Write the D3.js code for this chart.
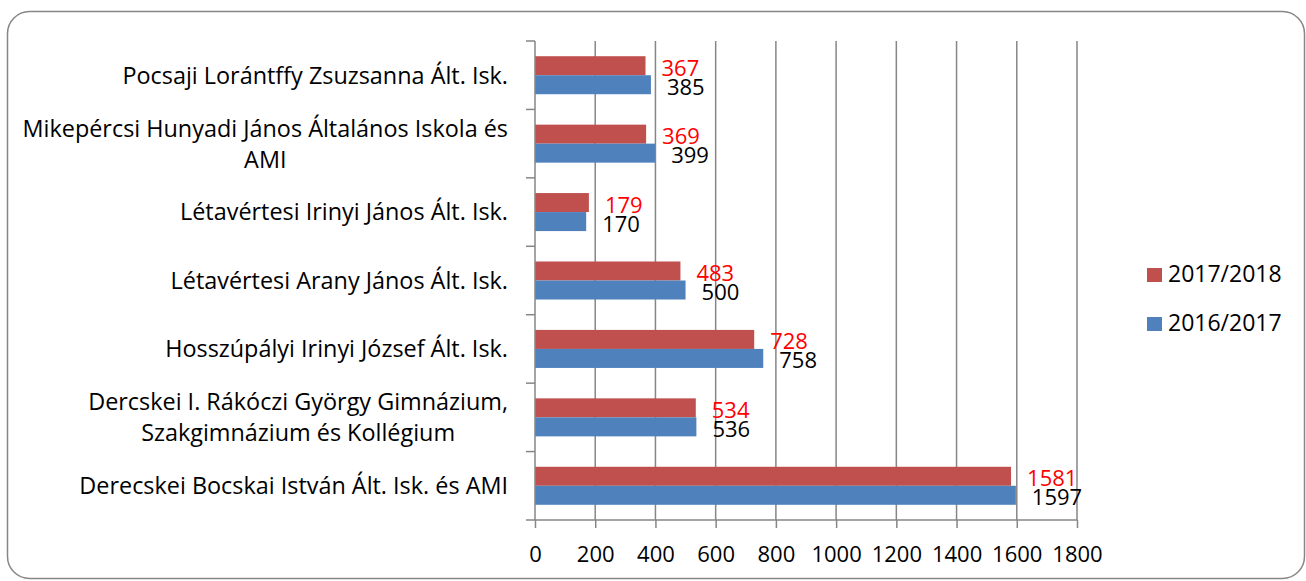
<!DOCTYPE html>
<html>
<head>
<meta charset="utf-8">
<script src="https://cdn.jsdelivr.net/npm/d3@7"></script>
<style>
  body { margin: 0; background: #fff; }
  text { font-family: "Open Sans", Lato, sans-serif; }
</style>
</head>
<body>
<svg id="chart" width="1306" height="581"></svg>
<script>
// categories top to bottom, as in the picture
const categories = [
    ["Pocsaji Lorántffy Zsuzsanna Ált. Isk."],
    ["Mikepércsi Hunyadi János Általános Iskola és", "AMI"],
    ["Létavértesi Irinyi János Ált. Isk."],
    ["Létavértesi Arany János Ált. Isk."],
    ["Hosszúpályi Irinyi József Ált. Isk."],
    ["Dercskei I. Rákóczi György Gimnázium,", "Szakgimnázium és Kollégium"],
    ["Derecskei Bocskai István Ált. Isk. és AMI"]
];
const values1718 = [367, 369, 179, 483, 728, 534, 1581];
const values1617 = [385, 399, 170, 500, 758, 536, 1597];
const seriesNames = ["2017/2018", "2016/2017"];
const xTicks = [0, 200, 400, 600, 800, 1000, 1200, 1400, 1600, 1800];

const colors = ["#C0504D", "#4F81BD"];
const labelColors = ["#FF0000", "#000000"];

let svg = d3.select("#chart");

//outer frame
svg.append("rect")
    .attr("x", 7.5).attr("y", 11.5)
    .attr("width", 1297).attr("height", 567)
    .attr("rx", 22).attr("ry", 22)
    .attr("fill", "#fff")
    .attr("stroke", "#868686")
    .attr("stroke-width", 1.5);

const plotLeft = 535, plotRight = 1077, plotTop = 41, plotBottom = 520;

let x = d3.scaleLinear().domain([0, 1800]).range([plotLeft, plotRight]);
let y = d3.scaleBand().domain(d3.range(categories.length)).range([plotTop, plotBottom]);
// two bars per band, excel-like 80% gap
let inner = d3.scaleBand().domain([0, 1]).range([0, y.bandwidth()]).paddingInner(0).paddingOuter(0.8);

//gridlines
svg.append("g")
    .selectAll("line")
    .data(xTicks.slice(1))
    .enter().append("line")
    .attr("x1", d => x(d)).attr("x2", d => x(d))
    .attr("y1", plotTop).attr("y2", plotBottom)
    .attr("stroke", "#868686").attr("stroke-width", 1.5);

//bars
const series = [values1718, values1617];
series.forEach((vals, s) => {
    svg.append("g")
        .selectAll("rect")
        .data(vals)
        .enter().append("rect")
        .attr("x", x(0))
        .attr("y", (d, i) => y(i) + inner(s))
        .attr("width", d => x(d) - x(0))
        .attr("height", inner.bandwidth())
        .attr("fill", colors[s]);

    //value labels, baseline sits on the bar bottom
    svg.append("g")
        .selectAll("text")
        .data(vals)
        .enter().append("text")
        .attr("x", d => x(d) + 16)
        .attr("y", (d, i) => y(i) + inner(s) + inner.bandwidth() + 0.5)
        .attr("font-size", "22px")
        .attr("fill", labelColors[s])
        .text(d => d);
});

//x axis
let xAxis = d3.axisBottom(x).tickValues(xTicks).tickSize(8).tickPadding(18).tickFormat(d3.format("d"));
let gx = svg.append("g")
    .attr("transform", `translate(0,${plotBottom})`)
    .call(xAxis);
gx.select(".domain").attr("d", `M${plotLeft - 9},0H${plotRight}`).attr("stroke", "#868686").attr("stroke-width", 1.5);
gx.selectAll(".tick line").attr("stroke", "#868686").attr("stroke-width", 1.5);
gx.selectAll(".tick text").attr("font-size", "22px").attr("fill", "#000").style("font-family", "'Open Sans'");

//y axis line + ticks at category boundaries
svg.append("line")
    .attr("x1", plotLeft).attr("x2", plotLeft)
    .attr("y1", plotTop).attr("y2", plotBottom)
    .attr("stroke", "#868686").attr("stroke-width", 1.5);
svg.append("g")
    .selectAll("line")
    .data(d3.range(categories.length))
    .enter().append("line")
    .attr("x1", plotLeft - 9).attr("x2", plotLeft)
    .attr("y1", d => y(d)).attr("y2", d => y(d))
    .attr("stroke", "#868686").attr("stroke-width", 1.5);

//category labels
let catG = svg.append("g");
categories.forEach((lines, i) => {
    let cy = y(i) + y.bandwidth() / 2;
    let t = catG.append("text")
        .attr("font-size", "23.4px")
        .attr("fill", "#000")
        .attr("text-anchor", "middle");
    lines.forEach((ln, j) => {
        t.append("tspan")
            .attr("y", cy + (j - (lines.length - 1) / 2) * 31)
            .attr("dy", "0.36em")
            .text(ln);
    });
    // center lines on the widest one, right edge at 508
    let w = 0;
    t.selectAll("tspan").each(function () { w = Math.max(w, this.getComputedTextLength()); });
    t.selectAll("tspan").attr("x", 508 - w / 2);
});

//legend
let legend = svg.append("g")
    .selectAll("g")
    .data(seriesNames)
    .enter().append("g")
    .attr("transform", (d, i) => `translate(1147,${268 + i * 49})`);
legend.append("rect")
    .attr("width", 15).attr("height", 14)
    .attr("fill", (d, i) => colors[i]);
legend.append("text")
    .attr("x", 21).attr("y", 14)
    .attr("font-size", "23px")
    .text(d => d);
</script>
</body>
</html>
